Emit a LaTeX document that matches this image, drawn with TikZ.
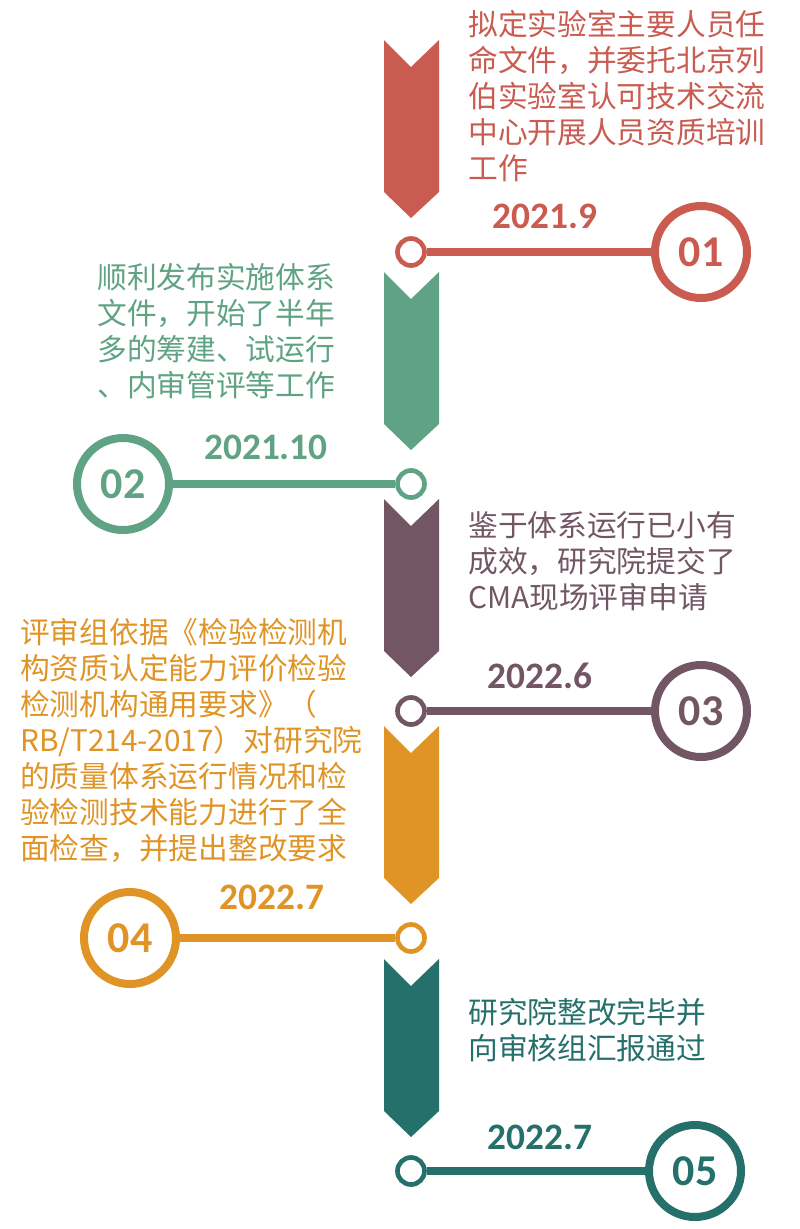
\documentclass[tikz,border=0pt]{standalone}
\usepackage{fontspec}
\newfontfamily\cjk{Noto Sans CJK SC}
\newfontfamily\calfont{Carlito}
\definecolor{cA}{HTML}{C95B50}
\definecolor{cB}{HTML}{5FA384}
\definecolor{cC}{HTML}{725664}
\definecolor{cD}{HTML}{E09426}
\definecolor{cE}{HTML}{26706B}
\tikzset{
 chev/.style={fill=#1,draw=none},
 bigring/.style={circle,draw=#1,line width=6pt,minimum size=92*0.75pt,inner sep=0pt,text=#1,font=\calfont\bfseries\fontsize{33}{33}\selectfont},
 smallring/.style={circle,draw=#1,fill=white,line width=3.5pt,minimum size=27*0.75pt,inner sep=0pt},
 conn/.style={draw=#1,line width=5.5pt},
 yr/.style={text=#1,font=\calfont\bfseries\fontsize{28}{28}\selectfont},
 desc/.style={text=#1,font=\cjk\fontsize{22.3}{27}\selectfont,align=left,anchor=north west,inner sep=0pt}
}
\newcommand{\seg}[8]{%
 \fill[chev=#2] (384,#3-212) -- (411,#3-185) -- (439,#3-212) -- (439,#3-60) -- (411,#3-34) -- (384,#3-60) -- cycle;
 \node[smallring=#2] (#1s) at (411,#3) {};
 \node[bigring=#2] (#1b) at (#4,#3) {#7};
 \draw[conn=#2] (#1s) -- (#1b);
 \node[yr=#2] (#1y) at (#5,#6) {#8};
}
\begin{document}
\begin{tikzpicture}[x=0.75pt,y=-0.75pt]
\useasboundingbox (0,0) rectangle (800,1229);
\seg{a}{cA}{252}{701}{545}{216}{01}{2021.9}
\seg{b}{cB}{484}{123}{266}{447}{02}{2021.10}
\seg{c}{cC}{711}{701}{540}{676}{03}{2022.6}
\seg{d}{cD}{938}{130}{272}{897}{04}{2022.7}
\seg{e}{cE}{1171}{695}{540}{1137}{05}{2022.7}
\node[desc=cA] (ta) at (468,10) {拟定实验室主要人员任\\命文件，并委托北京列\\伯实验室认可技术交流\\中心开展人员资质培训\\工作};
\node[desc=cB] (tb) at (97,263) {顺利发布实施体系\\文件，开始了半年\\多的筹建、试运行\\、内审管评等工作};
\node[desc=cC] (tc) at (468,511) {鉴于体系运行已小有\\成效，研究院提交了\\CMA现场评审申请};
\node[desc=cD] (td) at (20,618) {评审组依据《检验检测机\\构资质认定能力评价检验\\检测机构通用要求》（\\RB/T214-2017）对研究院\\的质量体系运行情况和检\\验检测技术能力进行了全\\面检查，并提出整改要求};
\node[desc=cE] (te) at (468,998) {研究院整改完毕并\\向审核组汇报通过};
\end{tikzpicture}
\end{document}
